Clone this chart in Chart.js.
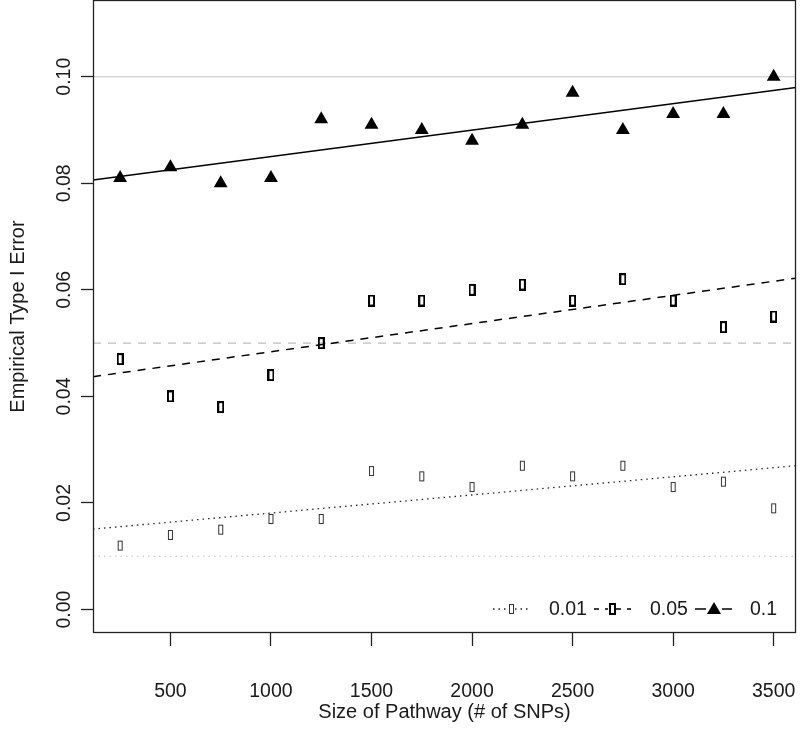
<!DOCTYPE html>
<html><head><meta charset="utf-8">
<script src="https://cdn.jsdelivr.net/npm/chart.js@4"></script>
<style>html,body{margin:0;padding:0;background:#fff;} canvas{display:block;}</style>
</head><body>
<canvas id="c" width="800" height="731"></canvas>
<script>
// ---- data ----
const pathwaySizes = [250, 500, 750, 1000, 1250, 1500, 1750, 2000, 2250, 2500, 2750, 3000, 3250, 3500];
const err001 = [0.012, 0.014, 0.015, 0.017, 0.017, 0.026, 0.025, 0.023, 0.027, 0.025, 0.027, 0.023, 0.024, 0.019];
const err005 = [0.047, 0.040, 0.038, 0.044, 0.050, 0.058, 0.058, 0.060, 0.061, 0.058, 0.062, 0.058, 0.053, 0.055];
const err010 = [0.081, 0.083, 0.080, 0.081, 0.092, 0.091, 0.090, 0.088, 0.091, 0.097, 0.090, 0.093, 0.093, 0.100];
// fitted trend lines: value at left and right edge of plot
const trend001 = [0.0151, 0.0270];
const trend005 = [0.0437, 0.0622];
const trend010 = [0.0806, 0.0980];
const nominalLevels = [0.01, 0.05, 0.10];
const legendLabels = ['0.01', '0.05', '0.1'];
const xTicks = [500, 1000, 1500, 2000, 2500, 3000, 3500];
const yTicks = [0.00, 0.02, 0.04, 0.06, 0.08, 0.10];
const xRange = [115, 3611];
const yRange = [-0.0044, 0.1144];
const xTitle = 'Size of Pathway (# of SNPs)';
const yTitle = 'Empirical Type I Error';

// ---- marker images ----
function rectMarker(w, h, lw, color) {
  const c = document.createElement('canvas');
  c.width = w + 2; c.height = h + 2;
  const g = c.getContext('2d');
  const o = lw % 2 ? 0.5 : 0;
  g.strokeStyle = color; g.lineWidth = lw;
  g.strokeRect(1 + o, 1 + o, w - 2 * o, h - 2 * o);
  return c;
}
const mk005 = rectMarker(5, 10, 2, '#000');
const mk001 = rectMarker(5, 10, 1, '#333');

const FONT = "'Liberation Sans', Arial, Helvetica, sans-serif";
const TXT = '#1a1a1a';

const pts = (ys) => pathwaySizes.map((x, i) => ({x, y: ys[i]}));
const seg = (vals) => [{x: xRange[0], y: vals[0]}, {x: xRange[1], y: vals[1]}];
const hline = (v) => [{x: xRange[0], y: v}, {x: xRange[1], y: v}];

const datasets = [
  {data: pts(err010), showLine: false, pointStyle: 'triangle', pointRadius: 8, backgroundColor: '#000', borderColor: '#000', borderWidth: 0},
  {data: pts(err005), showLine: false, pointStyle: mk005},
  {data: pts(err001), showLine: false, pointStyle: mk001},
  {data: seg(trend010), showLine: true, pointRadius: 0, borderColor: '#000', borderWidth: 1.5},
  {data: seg(trend005), showLine: true, pointRadius: 0, borderColor: '#000', borderWidth: 1.5, borderDash: [8, 7]},
  {data: seg(trend001), showLine: true, pointRadius: 0, borderColor: '#222', borderWidth: 1.3, borderDash: [1.5, 4]},
  {data: hline(nominalLevels[2]), showLine: true, pointRadius: 0, borderColor: '#c4c4c4', borderWidth: 1.2},
  {data: hline(nominalLevels[1]), showLine: true, pointRadius: 0, borderColor: '#bdbdbd', borderWidth: 1.2, borderDash: [8, 7]},
  {data: hline(nominalLevels[0]), showLine: true, pointRadius: 0, borderColor: '#bdbdbd', borderWidth: 1.2, borderDash: [1.5, 4]},
];

const boxLegend = {
  id: 'boxLegend',
  afterDatasetsDraw(chart) {
    const {ctx, chartArea: a} = chart;
    ctx.save();
    ctx.strokeStyle = '#222'; ctx.lineWidth = 1.3;
    ctx.strokeRect(a.left + 0.5, a.top + 0.5, a.right - a.left - 1, a.bottom - a.top - 1);
    // legend
    const ly = 609;
    const items = [
      {x0: 493, x1: 530, mx: 511, tx: 549, dash: [1.5, 4], lc: '#222', lw: 1.3, mk: 'r1'},
      {x0: 594, x1: 631, mx: 612, tx: 650, dash: [5, 6], lc: '#000', lw: 1.5, mk: 'r5'},
      {x0: 695, x1: 732, mx: 714, tx: 750, dash: [], lc: '#000', lw: 1.5, mk: 'tri'},
    ];
    items.forEach((it, i) => {
      ctx.beginPath();
      ctx.setLineDash(it.dash);
      ctx.strokeStyle = it.lc; ctx.lineWidth = it.lw;
      ctx.moveTo(it.x0, ly); ctx.lineTo(it.x1, ly); ctx.stroke();
      ctx.setLineDash([]);
      if (it.mk === 'tri') {
        ctx.fillStyle = '#fff'; ctx.fillRect(it.mx - 8, ly - 7, 16, 13);
        ctx.fillStyle = '#000';
        ctx.beginPath();
        ctx.moveTo(it.mx, ly - 7); ctx.lineTo(it.mx + 7, ly + 5); ctx.lineTo(it.mx - 7, ly + 5); ctx.closePath(); ctx.fill();
      } else {
        const img = it.mk === 'r1' ? mk001 : mk005;
        ctx.fillStyle = '#fff'; ctx.fillRect(it.mx - 4, ly - 6, 8, 12);
        ctx.drawImage(img, Math.round(it.mx - img.width / 2), Math.round(ly - img.height / 2));
      }
      ctx.fillStyle = TXT;
      ctx.font = '19.5px ' + FONT;
      ctx.textAlign = 'left'; ctx.textBaseline = 'middle';
      ctx.fillText(legendLabels[i], it.tx, ly + 1);
    });
    ctx.restore();
  }
};

new Chart(document.getElementById('c'), {
  type: 'scatter',
  data: {datasets},
  plugins: [boxLegend],
  options: {
    responsive: false, animation: false, devicePixelRatio: 1,
    layout: {autoPadding: false, padding: {top: 0, right: 4, left: 0, bottom: 0}},
    plugins: {legend: {display: false}, tooltip: {enabled: false}},
    scales: {
      x: {
        type: 'linear', min: xRange[0], max: xRange[1],
        afterBuildTicks: (s) => { s.ticks = xTicks.map(v => ({value: v})); },
        afterFit: (s) => { s.height = 98; s.paddingLeft = 0; s.paddingRight = 0; },
        border: {display: false},
        grid: {drawOnChartArea: false, drawTicks: true, tickLength: 13, tickColor: '#222', tickWidth: 1.3},
        ticks: {color: TXT, font: {family: FONT, size: 19.5}, padding: 34, maxRotation: 0, minRotation: 0,
                callback: (v) => String(v)},
        title: {display: true, text: xTitle, color: TXT, font: {family: FONT, size: 20}, padding: {top: 0, bottom: 7}}
      },
      y: {
        type: 'linear', min: yRange[0], max: yRange[1],
        afterBuildTicks: (s) => { s.ticks = yTicks.map(v => ({value: v})); },
        afterFit: (s) => { s.width = 93; s.paddingTop = 0; s.paddingBottom = 0; },
        border: {display: false},
        grid: {drawOnChartArea: false, drawTicks: true, tickLength: 12, tickColor: '#222', tickWidth: 1.3},
        ticks: {color: TXT, font: {family: FONT, size: 19.5}, padding: -3, minRotation: 90, maxRotation: 90,
                crossAlign: 'center', callback: (v) => v.toFixed(2)},
        title: {display: true, text: yTitle, color: TXT, font: {family: FONT, size: 20}, padding: {top: 6, bottom: 0}}
      }
    }
  }
});
</script>
</body></html>
